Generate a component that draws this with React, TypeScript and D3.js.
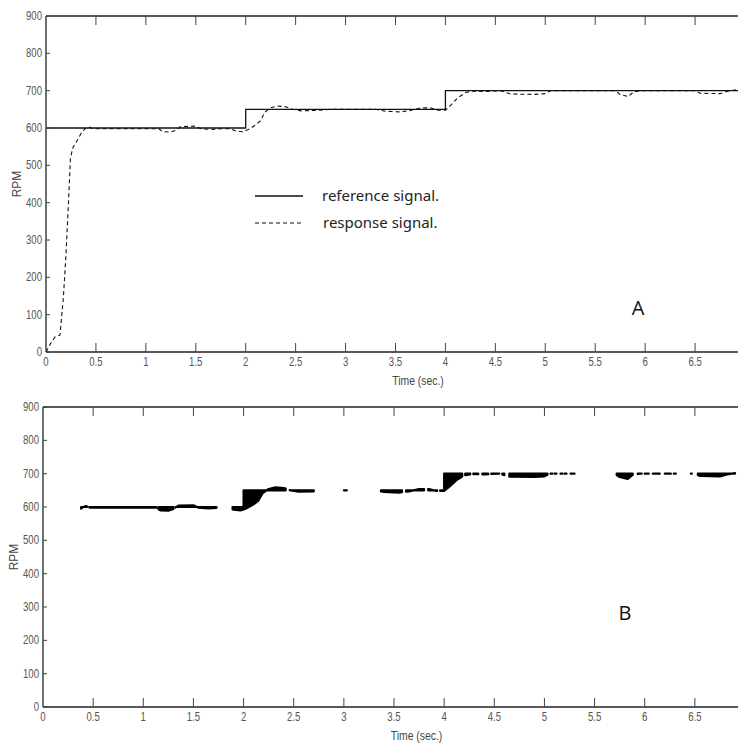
import React from "react";
import * as d3 from "d3";

// ---- data ----
const refTimes = [0, 2, 4];
const refLevels = [600, 650, 700];
const tEnd = 6.93;

const respTimes = [0, 0.04, 0.09, 0.14, 0.175, 0.2, 0.225, 0.245, 0.27, 0.32, 0.36, 0.4, 0.43, 0.47, 0.8, 1.13, 1.17, 1.25, 1.3, 1.35, 1.5, 1.55, 1.65, 1.75, 1.85, 1.9, 1.97, 2.02, 2.1, 2.15, 2.19, 2.25, 2.32, 2.4, 2.47, 2.55, 2.7, 2.85, 3.0, 3.3, 3.4, 3.55, 3.65, 3.75, 3.85, 3.92, 4.0, 4.05, 4.12, 4.2, 4.28, 4.4, 4.55, 4.65, 4.9, 5.0, 5.05, 5.7, 5.75, 5.83, 5.88, 5.95, 6.5, 6.55, 6.75, 6.82, 6.93];
const respValues = [0, 20, 40, 45, 150, 260, 400, 520, 548, 570, 590, 600, 603, 598, 598, 598, 590, 589, 594, 604, 605, 598, 596, 598, 598, 592, 590, 595, 608, 620, 642, 654, 659, 657, 650, 646, 647, 650, 650, 650, 645, 643, 647, 654, 654, 648, 648, 660, 680, 695, 699, 698, 700, 691, 690, 692, 700, 700, 690, 684, 696, 700, 700, 693, 692, 698, 703];

// intervals of the error band shown in panel B
const bStarts = [0.38, 0.46, 1.15, 1.32, 1.89, 2.46, 3.0, 3.37, 3.62, 3.84, 3.96, 4.21, 4.29, 4.38, 4.47, 4.58, 4.65, 5.06, 5.1, 5.16, 5.2, 5.26, 5.72, 5.93, 6.0, 6.08, 6.2, 6.29, 6.46, 6.53];
const bEnds = [0.44, 1.13, 1.3, 1.73, 2.42, 2.7, 3.03, 3.58, 3.8, 3.93, 4.18, 4.26, 4.34, 4.44, 4.55, 4.6, 5.03, 5.08, 5.12, 5.18, 5.22, 5.3, 5.88, 5.97, 6.04, 6.15, 6.26, 6.31, 6.47, 6.9];

const xTicks = [0, 0.5, 1, 1.5, 2, 2.5, 3, 3.5, 4, 4.5, 5, 5.5, 6, 6.5];
const yTicks = [0, 100, 200, 300, 400, 500, 600, 700, 800, 900];

const refAt = (t: number) => {
  let v = refLevels[0];
  refTimes.forEach((rt, i) => { if (t >= rt) v = refLevels[i]; });
  return v;
};
const respAt = (t: number) => {
  const i = d3.bisectRight(respTimes, t);
  if (i <= 0) return respValues[0];
  if (i >= respTimes.length) return respValues[respValues.length - 1];
  const t0 = respTimes[i - 1], t1 = respTimes[i];
  const k = (t - t0) / (t1 - t0);
  return respValues[i - 1] + k * (respValues[i] - respValues[i - 1]);
};

const tickFont = "'Liberation Sans', Arial, sans-serif";
const SX = 0.8;

function NText({ x, y, anchor, size, children, fill = "#555" }: any) {
  return (
    <text transform={`translate(${x},${y}) scale(${SX},1)`} textAnchor={anchor} fontFamily={tickFont} fontSize={size} fill={fill}>{children}</text>
  );
}

function Panel({ x0, x1, y900, y0, label, labelX, labelY, mode }: any) {
  const x = d3.scaleLinear().domain([0, tEnd]).range([x0, x1]);
  const y = d3.scaleLinear().domain([0, 900]).range([y0, y900]);
  const refPts: [number, number][] = refTimes.map((t, i) => [t, refLevels[i]]);
  refPts.push([tEnd, refLevels[refLevels.length - 1]]);
  const refLine = d3.line<[number, number]>().x(d => x(d[0])).y(d => y(d[1])).curve(d3.curveStepAfter);
  const respPts: [number, number][] = respTimes.map((t, i) => [t, respValues[i]]);
  const respLine = d3.line<[number, number]>().x(d => x(d[0])).y(d => y(d[1]));

  const bands = bStarts.map((s, i) => {
    const e = bEnds[i];
    const ts = [s, ...respTimes.filter(t => t > s && t < e), e];
    const pts: { t: number; r: number; v: number }[] = [];
    ts.forEach(t => pts.push({ t, r: refAt(t), v: respAt(t) }));
    refTimes.forEach((rt, k) => {
      if (k > 0 && rt > s && rt < e) {
        pts.push({ t: rt - 1e-6, r: refLevels[k - 1], v: respAt(rt) });
        pts.push({ t: rt, r: refLevels[k], v: respAt(rt) });
      }
    });
    pts.sort((a, b) => a.t - b.t);
    return d3.area<any>().x(d => x(d.t)).y0(d => y(d.r)).y1(d => y(d.v))(pts) || "";
  });

  const xmid = (x0 + x1) / 2;
  return (
    <g>
      <defs>
        <clipPath id={"clip" + mode}>
          <rect x={x0} y={y900} width={x1 - x0 + 2} height={y0 - y900} />
        </clipPath>
      </defs>
      <g clipPath={`url(#clip${mode})`}>
        {mode === "A" && (
          <>
            <path d={refLine(refPts) || ""} fill="none" stroke="#111" strokeWidth={1.3} />
            <path d={respLine(respPts) || ""} fill="none" stroke="#111" strokeWidth={1.1} strokeDasharray="4,3" />
          </>
        )}
        {mode === "B" && bands.map((d, i) => (
          <path key={i} d={d} fill="#000" stroke="#000" strokeWidth={2.2} strokeLinejoin="round" />
        ))}
      </g>
      {/* frame */}
      <line x1={x0} x2={x1} y1={y900} y2={y900} stroke="#222" strokeWidth={1.3} />
      <line x1={x0} x2={x1} y1={y0} y2={y0} stroke="#222" strokeWidth={1.3} />
      <line x1={x0} x2={x0} y1={y900} y2={y0} stroke="#222" strokeWidth={1.3} />
      {xTicks.map(t => (
        <g key={t}>
          {t > 0 && <line x1={x(t)} x2={x(t)} y1={y0} y2={y0 - 9} stroke="#444" strokeWidth={1} />}
          {t > 0 && <line x1={x(t)} x2={x(t)} y1={y900} y2={y900 + 9} stroke="#444" strokeWidth={1} />}
          <NText x={x(t)} y={y0 + 14} anchor="middle" size={12}>{t}</NText>
        </g>
      ))}
      {yTicks.map(v => (
        <g key={v}>
          <line x1={x0} x2={x0 + 4} y1={y(v)} y2={y(v)} stroke="#444" strokeWidth={1} />
          <NText x={x0 - 4} y={y(v) + 4} anchor="end" size={12}>{v}</NText>
        </g>
      ))}
      <text transform={`translate(${x0 - 25},${(y0 + y900) / 2}) rotate(-90)`} textAnchor="middle" fontFamily={tickFont} fontSize={12} fill="#444">RPM</text>
      <NText x={xmid + 26} y={y0 + 33} anchor="middle" size={13} fill="#444">Time (sec.)</NText>
      <text x={labelX} y={labelY} textAnchor="middle" fontFamily="'Open Sans', 'Noto Sans', sans-serif" fontSize={20} fill="#111">{label}</text>
    </g>
  );
}

export default function App() {
  return (
    <svg width={738} height={744} style={{ position: "absolute", left: 0, top: 0, background: "#fff" }}>
      <rect width={738} height={744} fill="#fff" />
      <Panel x0={46} x1={738} y900={16} y0={352} label="A" labelX={638} labelY={315} mode="A" />
      <Panel x0={43} x1={738} y900={407} y0={707} label="B" labelX={625} labelY={620} mode="B" />
      {/* legend */}
      <line x1={255} x2={303} y1={196} y2={196} stroke="#111" strokeWidth={1.3} />
      <text x={322} y={201} fontFamily="'Noto Sans', 'Open Sans', sans-serif" fontSize={15} fill="#222">reference signal.</text>
      <line x1={255} x2={301} y1={223} y2={223} stroke="#111" strokeWidth={1.1} strokeDasharray="4,3" />
      <text x={323} y={228} fontFamily="'Noto Sans', 'Open Sans', sans-serif" fontSize={15} fill="#222">response signal.</text>
    </svg>
  );
}
